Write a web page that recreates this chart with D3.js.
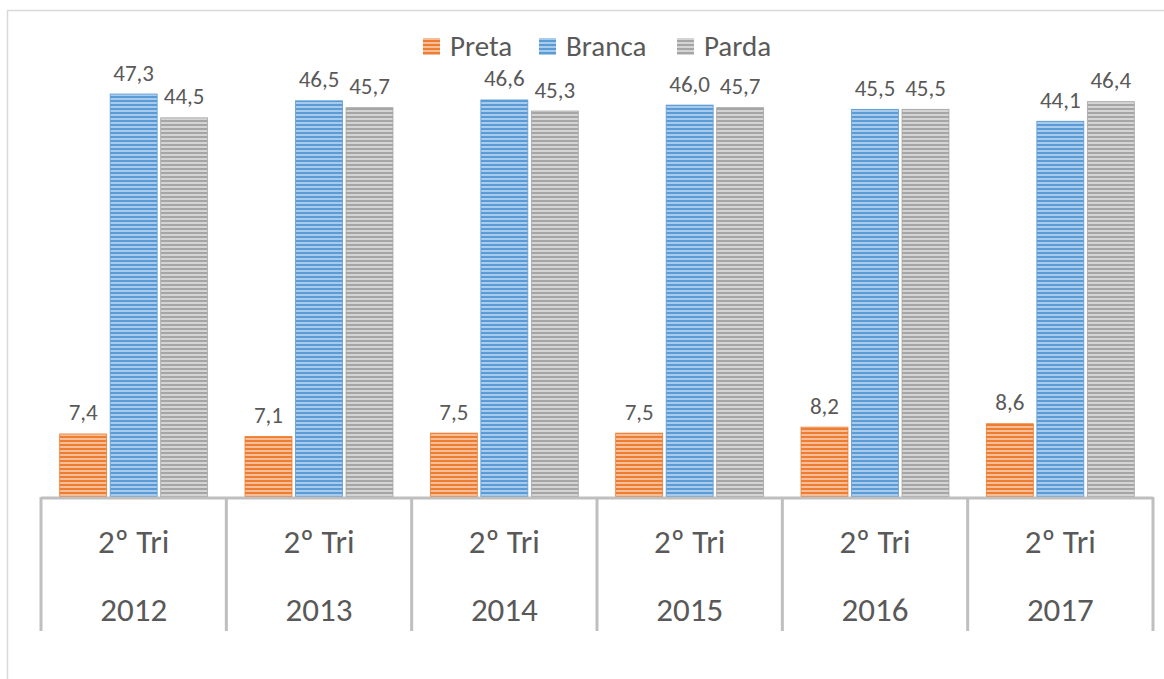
<!DOCTYPE html>
<html>
<head>
<meta charset="utf-8">
<script src="https://cdn.jsdelivr.net/npm/d3@7"></script>
<style>
  body { margin: 0; background: #fff; }
  text { font-family: Carlito, Calibri, "Open Sans", sans-serif; fill: #595959; }
</style>
</head>
<body>
<svg width="1164" height="679"></svg>
<script>
// chart values
const years = ['2012', '2013', '2014', '2015', '2016', '2017'];
const quarters = ['2º Tri', '2º Tri', '2º Tri', '2º Tri', '2º Tri', '2º Tri'];
const series = ['Preta', 'Branca', 'Parda'];
const preta = [7.4, 7.1, 7.5, 7.5, 8.2, 8.6];
const branca = [47.3, 46.5, 46.6, 46.0, 45.5, 44.1];
const parda = [44.5, 45.7, 45.3, 45.7, 45.5, 46.4];
const colors = ['#ED7D31', '#5B9BD5', '#A5A5A5'];
const lightColors = ['#F6BE98', '#A9CBEB', '#D4D4D4'];

const values = [preta, branca, parda];
const svg = d3.select('svg');

// outer frame
svg.append('rect')
  .attr('x', 7.5).attr('y', 10.5)
  .attr('width', 1170).attr('height', 680)
  .attr('fill', 'none').attr('stroke', '#D9D9D9').attr('stroke-width', 1.5);

// striped patterns
const defs = svg.append('defs');
series.forEach((s, i) => {
  const p = defs.append('pattern')
    .attr('id', 'pat' + i)
    .attr('patternUnits', 'userSpaceOnUse')
    .attr('width', 8).attr('height', 4);
  p.append('rect').attr('width', 8).attr('height', 4).attr('fill', lightColors[i]);
  p.append('rect').attr('y', 0).attr('width', 8).attr('height', 2).attr('fill', colors[i]);
});

const left = 41, right = 1153, baseY = 497;
const x0 = d3.scaleBand().domain(d3.range(years.length)).range([left, right]).paddingInner(0).paddingOuter(0);
const x1 = d3.scaleBand().domain(d3.range(series.length))
  .range([0, x0.bandwidth()]).paddingInner(0.07).paddingOuter(0.37);
const y = d3.scaleLinear().domain([0, 50]).range([baseY, baseY - 426]);

const fmt = v => d3.format('.1f')(v).replace('.', ',');

const groups = svg.append('g').selectAll('g')
  .data(years.map((yr, i) => i))
  .enter().append('g')
  .attr('transform', i => `translate(${x0(i)},0)`);

groups.selectAll('rect')
  .data(i => values.map((arr, s) => ({ s, v: arr[i] })))
  .enter().append('rect')
  .attr('x', d => x1(d.s))
  .attr('y', d => y(d.v))
  .attr('width', x1.bandwidth())
  .attr('height', d => baseY - y(d.v))
  .attr('fill', d => `url(#pat${d.s})`)
  .attr('stroke', d => colors[d.s])
  .attr('stroke-width', 0.8);

groups.selectAll('text.lbl')
  .data(i => values.map((arr, s) => ({ s, v: arr[i] })))
  .enter().append('text')
  .attr('class', 'lbl')
  .attr('x', d => x1(d.s) + x1.bandwidth() / 2)
  .attr('y', d => y(d.v) - 13.5)
  .attr('text-anchor', 'middle')
  .attr('font-size', 23)
  .text(d => fmt(d.v));

// multi-level category axis
const axis = svg.append('g');
axis.append('line')
  .attr('x1', left).attr('x2', right)
  .attr('y1', baseY + 1).attr('y2', baseY + 1)
  .attr('stroke', '#BFBFBF').attr('stroke-width', 3);
axis.selectAll('line.sep')
  .data(d3.range(years.length + 1))
  .enter().append('line')
  .attr('class', 'sep')
  .attr('x1', i => i < years.length ? x0(i) : right)
  .attr('x2', i => i < years.length ? x0(i) : right)
  .attr('y1', baseY).attr('y2', 631)
  .attr('stroke', '#BFBFBF').attr('stroke-width', 3);
axis.selectAll('text.q')
  .data(quarters)
  .enter().append('text')
  .attr('x', (d, i) => x0(i) + x0.bandwidth() / 2)
  .attr('y', 553)
  .attr('text-anchor', 'middle')
  .attr('font-size', 33)
  .text(d => d);
axis.selectAll('text.yr')
  .data(years)
  .enter().append('text')
  .attr('x', (d, i) => x0(i) + x0.bandwidth() / 2)
  .attr('y', 621)
  .attr('text-anchor', 'middle')
  .attr('font-size', 33)
  .text(d => d);

// legend
const legendX = [423, 539, 677];
const legend = svg.append('g');
series.forEach((s, i) => {
  legend.append('rect')
    .attr('x', legendX[i]).attr('y', 38)
    .attr('width', 17).attr('height', 17)
    .attr('fill', `url(#pat${i})`);
  legend.append('text')
    .attr('x', legendX[i] + 27).attr('y', 56)
    .attr('font-size', 29)
    .text(s);
});
</script>
</body>
</html>
